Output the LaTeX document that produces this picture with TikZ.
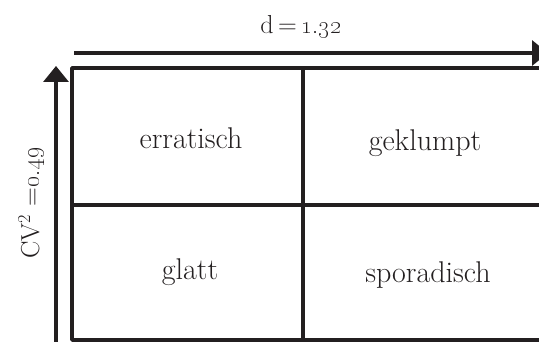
\documentclass[tikz,border=0pt]{standalone}
\usetikzlibrary{arrows.meta}
\definecolor{ink}{HTML}{231F20}
\begin{document}
\begin{tikzpicture}[x=1pt,y=-1pt,line width=3.4pt,draw=ink,text=ink,
  cell/.style={inner sep=0pt,font=\fontsize{30}{36}\selectfont},
  axis/.style={-{Triangle[width=25pt,length=16pt]}},
  axlabel/.style={inner sep=0pt,font=\fontsize{26}{31}\selectfont}]
\useasboundingbox (0,0) rectangle (539,342);
% grid
\draw[line join=round] (545,68) -- (72,68) -- (72,340) -- (545,340);
\draw (303,68) -- (303,340);
\draw (72,205) -- (545,205);
% cell labels
\node[cell] (err) at (191,138) {erratisch};
\node[cell] (gek) at (425,143) {geklumpt};
\node[cell] (gla) at (190,272) {glatt};
\node[cell] (spo) at (428,275) {sporadisch};
% axes
\coordinate (hs) at (74,53);
\coordinate (he) at (548,53);
\coordinate (vs) at (56,345);
\coordinate (ve) at (56,66);
\draw[axis] (hs) -- (he);
\draw[axis] (vs) -- (ve);
\node[axlabel] (dl) at (301,27) {d\,=\,\oldstylenums{1.32}};
\node[axlabel,rotate=90] (cv) at (31,203) {CV\textsuperscript{2} =\oldstylenums{0.49}};
\end{tikzpicture}
\end{document}
